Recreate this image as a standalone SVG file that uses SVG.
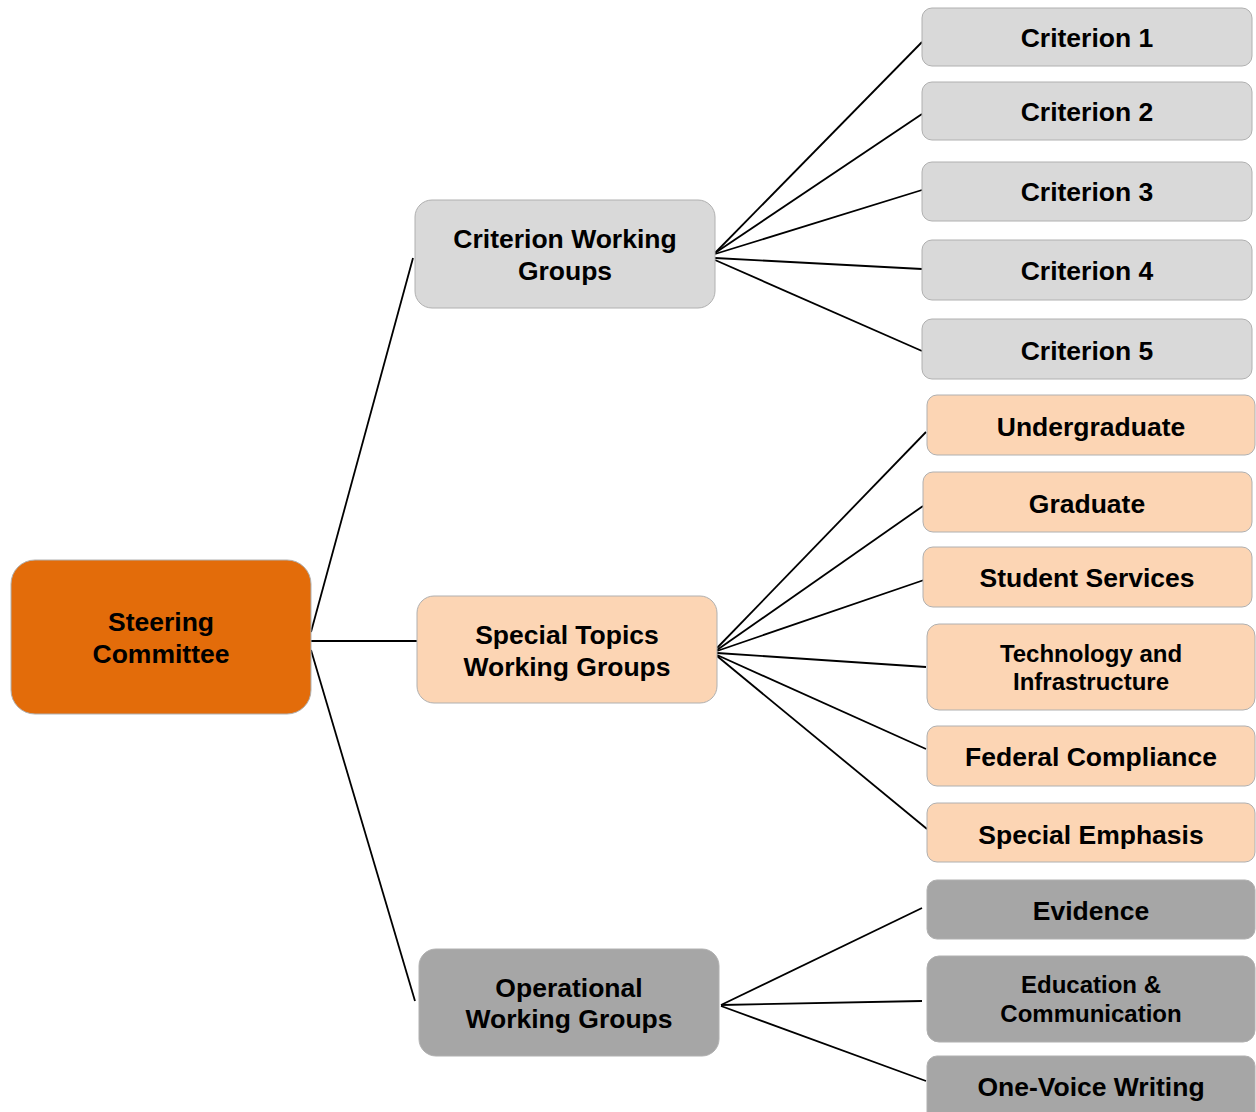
<svg xmlns="http://www.w3.org/2000/svg" width="1256" height="1112" viewBox="0 0 1256 1112">
<style>
.n{stroke:#B0B0B0;stroke-width:1}
.g{fill:#D9D9D9}
.p{fill:#FCD5B4}
.d{fill:#A6A6A6}
.o{fill:#E36C0A}
text{font-family:"Liberation Sans",Arial,sans-serif;font-weight:bold;fill:#000;text-anchor:middle}
.l{font-size:26.5px}
.s{font-size:24px}
#connectors line{stroke:#000;stroke-width:1.8;fill:none}
</style>
<g id="connectors">
<line x1="311" y1="632" x2="413" y2="258"/>
<line x1="311" y1="641" x2="417" y2="641"/>
<line x1="311" y1="650" x2="415" y2="1001"/>
<line x1="715" y1="253" x2="922" y2="42"/>
<line x1="715" y1="253" x2="922" y2="114"/>
<line x1="715" y1="254" x2="922" y2="190"/>
<line x1="715" y1="258" x2="922" y2="269"/>
<line x1="715" y1="260" x2="922" y2="351"/>
<line x1="717" y1="648" x2="926" y2="432"/>
<line x1="717" y1="650" x2="923" y2="506"/>
<line x1="717" y1="651" x2="924" y2="580"/>
<line x1="717" y1="653" x2="926" y2="667"/>
<line x1="717" y1="655" x2="926" y2="749"/>
<line x1="717" y1="656" x2="927" y2="829"/>
<line x1="721" y1="1005" x2="922" y2="908"/>
<line x1="721" y1="1005" x2="922" y2="1001"/>
<line x1="721" y1="1006" x2="926" y2="1081"/>
</g>
<g id="steering"><rect class="n o" x="11" y="560" width="300" height="154" rx="24"/><text class="l" x="161" y="631">Steering</text><text class="l" x="161" y="663">Committee</text></g>
<g id="criterion-wg"><rect class="n g" x="415" y="200" width="300" height="108" rx="17"/><text class="l" x="565" y="248">Criterion Working</text><text class="l" x="565" y="280">Groups</text></g>
<g id="special-wg"><rect class="n p" x="417" y="596" width="300" height="107" rx="17"/><text class="l" x="567" y="644">Special Topics</text><text class="l" x="567" y="676">Working Groups</text></g>
<g id="operational-wg"><rect class="n d" x="419" y="949" width="300" height="107" rx="17"/><text class="l" x="569" y="997">Operational</text><text class="l" x="569" y="1028">Working Groups</text></g>
<g id="c1"><rect class="n g" x="922" y="8" width="330" height="58" rx="10"/><text class="l" x="1087" y="47">Criterion 1</text></g>
<g id="c2"><rect class="n g" x="922" y="82" width="330" height="58" rx="10"/><text class="l" x="1087" y="121">Criterion 2</text></g>
<g id="c3"><rect class="n g" x="922" y="162" width="330" height="59" rx="10"/><text class="l" x="1087" y="201">Criterion 3</text></g>
<g id="c4"><rect class="n g" x="922" y="240" width="330" height="60" rx="10"/><text class="l" x="1087" y="280">Criterion 4</text></g>
<g id="c5"><rect class="n g" x="922" y="319" width="330" height="60" rx="10"/><text class="l" x="1087" y="360">Criterion 5</text></g>
<g id="undergraduate"><rect class="n p" x="927" y="395" width="328" height="60" rx="10"/><text class="l" x="1091" y="436">Undergraduate</text></g>
<g id="graduate"><rect class="n p" x="923" y="472" width="329" height="60" rx="10"/><text class="l" x="1087" y="513">Graduate</text></g>
<g id="student-services"><rect class="n p" x="923" y="547" width="329" height="60" rx="10"/><text class="l" x="1087" y="587">Student Services</text></g>
<g id="technology"><rect class="n p" x="927" y="624" width="328" height="86" rx="12"/><text class="s" x="1091" y="662">Technology and</text><text class="s" x="1091" y="690">Infrastructure</text></g>
<g id="federal"><rect class="n p" x="927" y="726" width="328" height="60" rx="10"/><text class="l" x="1091" y="766">Federal Compliance</text></g>
<g id="special-emphasis"><rect class="n p" x="927" y="803" width="328" height="59" rx="10"/><text class="l" x="1091" y="844">Special Emphasis</text></g>
<g id="evidence"><rect class="n d" x="927" y="880" width="328" height="59" rx="10"/><text class="l" x="1091" y="920">Evidence</text></g>
<g id="education"><rect class="n d" x="927" y="956" width="328" height="86" rx="12"/><text class="s" x="1091" y="993">Education &amp;</text><text class="s" x="1091" y="1022">Communication</text></g>
<g id="one-voice"><rect class="n d" x="927" y="1056" width="328" height="70" rx="10"/><text class="l" x="1091" y="1096">One-Voice Writing</text></g>
</svg>
